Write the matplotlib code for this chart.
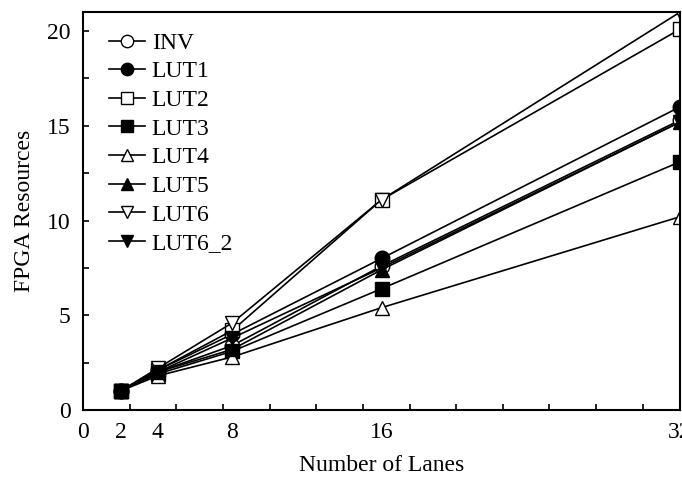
import numpy as np
import matplotlib
matplotlib.use("Agg")
import matplotlib.pyplot as plt
from matplotlib.ticker import MultipleLocator

lanes = [2, 4, 8, 16, 32]
inv = [1.0, 2.0, 3.4, 7.6, 15.3]
lut1 = [1.0, 2.1, 4.0, 8.0, 16.0]
lut2 = [1.0, 2.1, 4.2, 11.1, 20.1]
lut3 = [1.0, 1.9, 3.1, 6.4, 13.1]
lut4 = [1.0, 1.8, 2.8, 5.4, 10.2]
lut5 = [1.0, 2.0, 3.2, 7.4, 15.2]
lut6 = [1.0, 2.2, 4.6, 11.1, 21.0]
lut6_2 = [1.0, 2.0, 3.8, 7.5, 15.2]

names = ["INV", "LUT1", "LUT2", "LUT3", "LUT4", "LUT5", "LUT6", "LUT6_2"]
series = [inv, lut1, lut2, lut3, lut4, lut5, lut6, lut6_2]
markers = ["o", "o", "s", "s", "^", "^", "v", "v"]
fills = ["white", "black", "white", "black", "white", "black", "white", "black"]

x_labels = [0, 2, 4, 8, 16, 32]

plt.rcParams["font.family"] = ["Liberation Serif", "DejaVu Serif"]

fig = plt.figure(figsize=(6.82, 4.88), dpi=100)
ax = fig.add_axes([0.122, 0.16, 0.875, 0.815])

for name, ys, m, fc in zip(names, series, markers, fills):
    ax.plot(lanes, ys, color="black", lw=1.2, marker=m, ms=10.5,
            mfc=fc, mec="black", mew=1.0, label=name)

ax.set_xlim(0, 32)
ax.set_ylim(0, 21)

ax.set_xticks(x_labels)
ax.set_xticklabels([str(v) for v in x_labels], fontsize=17)
ax.xaxis.set_minor_locator(MultipleLocator(2.5))
ax.tick_params(axis="x", which="major", length=0, pad=9)
ax.tick_params(axis="x", which="minor", direction="in", length=4.5, width=1.2)

ax.yaxis.set_major_locator(MultipleLocator(5))
ax.yaxis.set_minor_locator(MultipleLocator(2.5))
ax.tick_params(axis="y", which="both", direction="in", length=4.5, width=1.2,
               labelsize=17, pad=9)

for sp in ax.spines.values():
    sp.set_linewidth(1.5)

ax.set_xlabel("Number of Lanes", fontsize=17, labelpad=8)
ax.set_ylabel("FPGA Resources", fontsize=17, labelpad=9)

ax.legend(loc="upper left", bbox_to_anchor=(0.02, 0.985), frameon=False,
          fontsize=17, markerscale=0.85, handlelength=1.5, handletextpad=0.3,
          labelspacing=0.3, borderaxespad=0.2)

fig.savefig("out.png", dpi=100)
